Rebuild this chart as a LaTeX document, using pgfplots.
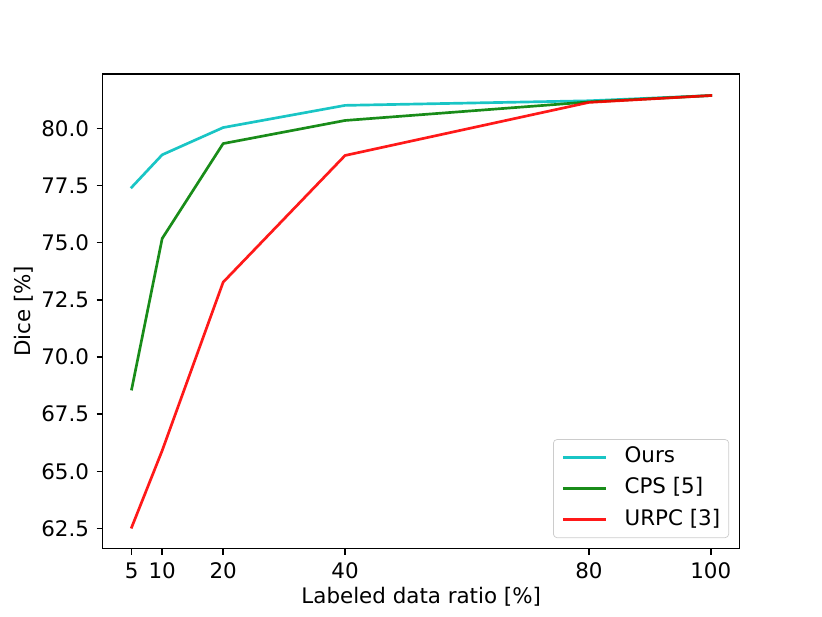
\documentclass[border=0pt]{standalone}
\usepackage{fontspec}
\setmainfont{DejaVu Sans}
\usepackage{pgfplots}
\pgfplotsset{compat=1.18}
\definecolor{mc}{rgb}{0,0.75,0.75}
\definecolor{mg}{rgb}{0,0.5,0}
\definecolor{mr}{rgb}{1,0,0}
\begin{document}
\fontsize{12}{14.4}\selectfont
\begin{tikzpicture}
\path[use as bounding box] (0,0) rectangle (460.8pt,345.6pt);
\begin{axis}[
  at={(57.6pt,38.0pt)}, anchor=south west,
  scale only axis, width=357.1pt, height=266.1pt,
  xmin=0.25, xmax=104.75, ymin=61.62, ymax=82.37,
  xtick={5,10,20,40,80,100},
  xticklabels={5,10,20,40,80,100},
  ytick={62.5,65,67.5,70,72.5,75,77.5,80},
  yticklabels={62.5,65.0,67.5,70.0,72.5,75.0,77.5,80.0},
  tick pos=left,
  tick align=outside,
  major tick length=3.5pt,
  every tick/.style={black, line width=0.8pt},
  axis line style={line width=0.8pt},
  ticklabel style={font=\fontsize{12}{14.4}\selectfont},
  xlabel={Labeled data ratio [\%]},
  ylabel={Dice [\%]},
  label style={font=\fontsize{12}{14.4}\selectfont},
  xlabel style={at={(axis description cs:0.5,0)}, anchor=center, yshift=-26.9pt},
  ylabel style={at={(axis description cs:-0.1235,0.5)}, anchor=center},
  legend style={at={(rel axis cs:1,0)}, anchor=south east, xshift=-6pt, yshift=6pt,
    draw=black!20, rounded corners=2pt, fill=white, fill opacity=0.8, text opacity=1,
    font=\fontsize{12}{14.4}\selectfont, inner xsep=4.8pt, inner ysep=4pt,
    row sep=5.5pt, column sep=9.6pt,
    nodes={inner sep=0pt, text height=9pt, text depth=3pt}},
  legend cell align=left,
  legend image code/.code={\draw[#1, line cap=butt] (0pt,0pt) -- (24pt,0pt);},
  every axis plot/.append style={line width=1.5pt, line join=round, line cap=rect, opacity=0.9},
]
\addplot[mc] coordinates {(5,77.42) (10,78.84) (20,80.03) (40,81.0) (80,81.2) (100,81.43)};
\addlegendentry{Ours}
\addplot[mg] coordinates {(5,68.6) (10,75.18) (20,79.33) (40,80.34) (80,81.15) (100,81.43)};
\addlegendentry{CPS [5]}
\addplot[mr] coordinates {(5,62.56) (10,65.91) (20,73.27) (40,78.81) (80,81.13) (100,81.43)};
\addlegendentry{URPC [3]}
\end{axis}
\end{tikzpicture}
\end{document}
